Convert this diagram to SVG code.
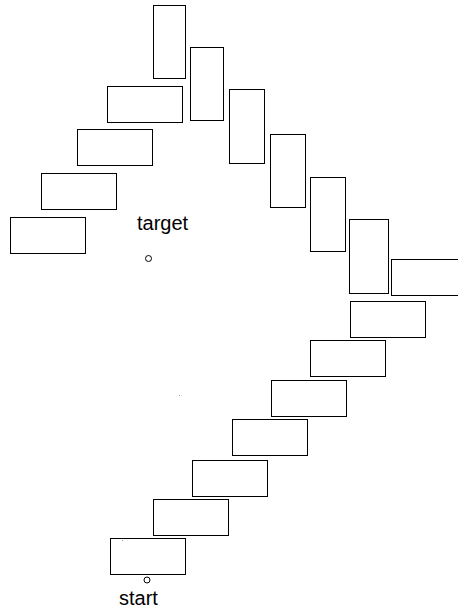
<svg xmlns="http://www.w3.org/2000/svg" width="458" height="609" viewBox="0 0 458 609">
<style>
.box{fill:none;stroke:#000;stroke-width:1}
.lbl{font-family:"Liberation Sans",Arial,sans-serif;font-size:20px;fill:#000}
.pt{fill:none;stroke:#000;stroke-width:1}
.dot{fill:#999}
</style>
<rect width="458" height="609" fill="#fff"/>
<g id="nodes">
<g id="v1"><rect class="box" x="153.5" y="5.5" width="32" height="73"/></g>
<g id="v2"><rect class="box" x="190.5" y="47.5" width="33" height="73"/></g>
<g id="v3"><rect class="box" x="229.5" y="89.5" width="35" height="74"/></g>
<g id="v4"><rect class="box" x="270.5" y="134.5" width="35" height="73"/></g>
<g id="v5"><rect class="box" x="310.5" y="177.5" width="35" height="74"/></g>
<g id="v6"><rect class="box" x="349.5" y="219.5" width="39" height="74"/></g>
<g id="h0"><rect class="box" x="391.5" y="259.5" width="75" height="36"/></g>
<g id="l1"><rect class="box" x="107.5" y="86.5" width="75" height="36"/></g>
<g id="l2"><rect class="box" x="77.5" y="129.5" width="75" height="36"/></g>
<g id="l3"><rect class="box" x="41.5" y="173.5" width="75" height="36"/></g>
<g id="l4"><rect class="box" x="10.5" y="217.5" width="75" height="36"/></g>
<g id="r1"><rect class="box" x="350.5" y="301.5" width="75" height="36"/></g>
<g id="r2"><rect class="box" x="310.5" y="340.5" width="75" height="36"/></g>
<g id="r3"><rect class="box" x="271.5" y="380.5" width="75" height="36"/></g>
<g id="r4"><rect class="box" x="232.5" y="419.5" width="75" height="36"/></g>
<g id="r5"><rect class="box" x="192.5" y="460.5" width="75" height="36"/></g>
<g id="r6"><rect class="box" x="153.5" y="499.5" width="75" height="36"/></g>
<g id="r7"><rect class="box" x="110.5" y="538.5" width="75" height="36"/></g>
<g id="target"><text class="lbl" x="137" y="230">target</text><circle class="pt" cx="148.5" cy="258.5" r="3"/></g>
<g id="start"><circle class="pt" cx="147" cy="580" r="3"/><text class="lbl" x="119" y="605">start</text></g>
</g>
<g id="connectors"></g>
<rect class="dot" x="179" y="395" width="1" height="1"/>
<rect class="dot" x="122" y="540" width="1" height="1"/>
</svg>
